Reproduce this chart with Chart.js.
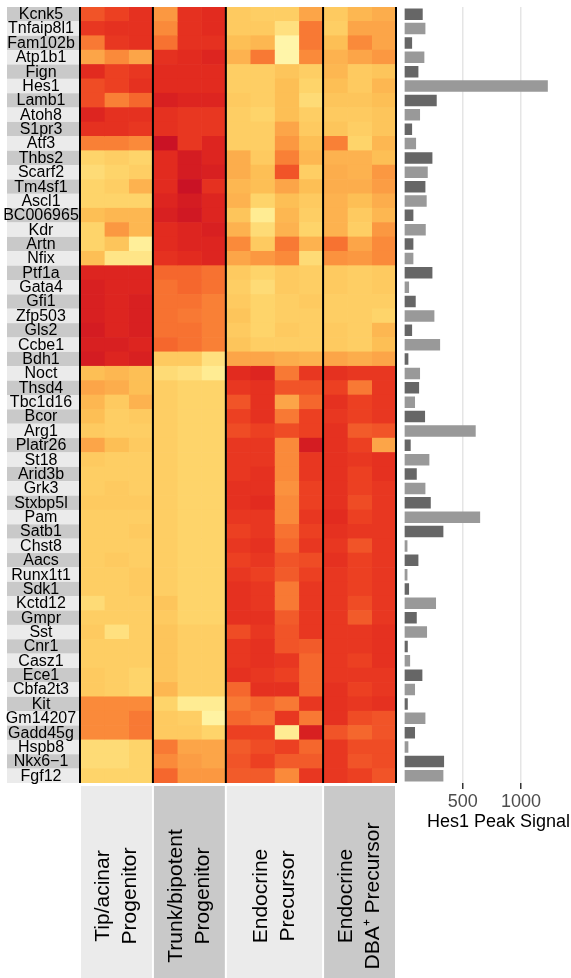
<!DOCTYPE html>
<html>
<head>
<meta charset="utf-8">
<script src="https://cdn.jsdelivr.net/npm/chart.js@4.4.1/dist/chart.umd.min.js"></script>
<style>
html,body{margin:0;padding:0;background:#fff;}
#wrap{position:relative;width:571px;height:978px;}
.box{position:absolute;top:0;height:978px;}
</style>
</head>
<body>
<div id="wrap">
  <div class="box" style="left:0;width:400px"><canvas id="heat"></canvas></div>
  <div class="box" style="left:400px;width:171px"><canvas id="bars"></canvas></div>
</div>
<script>
const genes = ['Kcnk5','Tnfaip8l1','Fam102b','Atp1b1','Fign','Hes1','Lamb1','Atoh8','S1pr3','Atf3',
  'Thbs2','Scarf2','Tm4sf1','Ascl1','BC006965','Kdr','Artn','Nfix','Ptf1a','Gata4','Gfi1','Zfp503',
  'Gls2','Ccbe1','Bdh1','Noct','Thsd4','Tbc1d16','Bcor','Arg1','Platr26','St18','Arid3b','Grk3',
  'Stxbp5l','Pam','Satb1','Chst8','Aacs','Runx1t1','Sdk1','Kctd12','Gmpr','Sst','Cnr1','Casz1',
  'Ece1','Cbfa2t3','Kit','Gm14207','Gadd45g','Hspb8','Nkx6\u22121','Fgf12'];

const groupNames = [['Tip/acinar','Progenitor'],['Trunk/bipotent','Progenitor'],['Endocrine','Precursor'],['Endocrine','DBA\u207A Precursor']];

// relative expression (0 = pale yellow, 100 = deep red), one row per gene
const tipAcinar = [[70,75,80],[78,80,80],[60,78,80],[45,55,45],[82,75,78],[72,75,80],[72,58,65],[85,80,80],[80,80,78],[58,58,55],
  [25,28,25],[22,25,28],[25,28,40],[25,25,25],[35,38,38],[25,50,38],[25,32,12],[35,18,18],[85,85,85],[88,85,85],
  [88,85,88],[88,85,88],[90,85,88],[88,88,85],[90,85,88],[35,38,35],[45,42,35],[38,30,40],[35,28,30],[30,28,28],
  [45,35,30],[30,28,28],[28,28,28],[28,30,28],[30,30,30],[28,28,28],[28,28,30],[28,28,28],[28,30,28],[28,28,30],
  [28,28,30],[22,28,28],[28,28,28],[30,20,28],[28,28,28],[28,28,28],[30,28,25],[30,28,25],[55,55,55],[55,55,60],
  [55,55,60],[22,22,25],[22,22,25],[25,25,25]];
const trunkBipotent = [[50,80,82],[55,80,82],[62,80,80],[80,82,85],[82,82,82],[82,82,82],[88,85,85],[80,78,78],[80,78,78],[95,78,85],
  [82,90,85],[82,90,88],[82,95,80],[85,90,85],[88,92,85],[82,85,88],[82,85,85],[80,82,85],[65,65,62],[62,65,62],
  [62,62,58],[62,60,58],[62,62,58],[65,62,58],[30,30,20],[22,20,15],[28,25,25],[28,25,25],[28,25,25],[28,25,25],
  [28,25,25],[28,25,25],[28,25,25],[28,25,25],[28,25,25],[28,25,25],[28,25,25],[28,25,25],[28,25,25],[28,25,25],
  [28,25,25],[32,25,25],[30,25,25],[32,28,28],[32,28,28],[32,28,28],[32,28,28],[38,28,28],[25,15,15],[30,28,8],
  [30,30,25],[60,45,45],[55,48,45],[65,50,50]];
const endoPrecursor = [[30,28,28,45],[30,30,20,60],[35,38,5,60],[40,60,5,55],[28,28,32,28],[28,28,35,25],[30,28,35,22],[28,25,35,28],[28,28,45,30],[28,28,50,35],
  [42,30,58,38],[42,35,70,28],[38,35,45,35],[40,25,35,30],[32,15,38,28],[40,22,40,25],[55,30,60,40],[45,50,55,22],[30,25,30,28],[28,22,30,28],
  [30,25,28,30],[32,25,28,28],[30,25,30,28],[32,28,28,28],[45,45,42,40],[82,85,60,78],[78,80,70,70],[70,80,45,65],[75,80,60,75],[72,75,72,75],
  [78,78,55,90],[78,78,55,78],[78,80,55,78],[80,80,52,75],[80,82,55,75],[78,78,55,78],[75,78,62,75],[78,80,65,78],[75,78,70,72],[78,75,68,75],
  [80,78,60,78],[80,78,60,78],[80,80,68,78],[72,78,70,78],[78,80,70,68],[78,80,78,65],[80,78,75,65],[65,80,80,65],[60,65,60,78],[65,62,78,60],
  [75,75,15,88],[68,72,75,65],[70,75,68,68],[68,68,55,78]];
const endoDBA = [[30,38,42],[28,45,45],[35,55,45],[40,45,50],[38,30,32],[35,30,38],[32,32,35],[30,30,32],[32,28,32],[58,25,38],
  [40,40,35],[42,40,50],[42,42,48],[40,35,42],[40,30,38],[40,28,50],[62,45,55],[52,50,55],[30,28,30],[30,28,30],
  [28,28,28],[28,28,25],[30,28,38],[30,28,35],[45,42,45],[80,78,78],[75,60,78],[80,75,78],[78,75,78],[80,68,70],
  [80,75,45],[80,78,80],[80,75,80],[80,75,78],[80,72,78],[82,75,78],[80,78,78],[78,70,78],[80,75,78],[78,75,78],
  [78,75,78],[78,72,78],[78,68,78],[78,78,80],[78,78,80],[78,75,80],[78,78,78],[80,75,78],[80,78,80],[80,72,70],
  [70,65,70],[78,72,72],[78,70,72],[78,75,70]];

const hes1Signal = [157,180,66,171,120,1229,277,134,66,100,240,200,180,191,77,183,77,77,240,40,97,257,66,306,34,
  134,126,91,177,611,54,214,106,180,226,649,334,26,120,26,40,271,106,194,29,49,154,91,29,180,91,34,340,334];

const hesTicks = [500, 1000];

Chart.defaults.font.family = '"Liberation Sans", Arial, Helvetica, sans-serif';

const stops = [[0,[255,250,180]],[15,[255,236,147]],[25,[254,212,106]],[35,[253,191,85]],[45,[252,165,72]],
  [55,[250,138,58]],[65,[245,103,45]],[75,[236,64,34]],[82,[226,43,31]],[90,[212,28,34]],[100,[192,8,40]]];
function heatColor(v){
  for(let k=1;k<stops.length;k++){
    if(v<=stops[k][0]){
      const [a,ca]=stops[k-1],[b,cb]=stops[k];
      const t=(v-a)/(b-a);
      return 'rgb('+ca.map((c,j)=>Math.round(c+(cb[j]-c)*t)).join(',')+')';
    }
  }
  return 'rgb(192,8,40)';
}

const rows = genes.map((g,i)=>[...tipAcinar[i],...trunkBipotent[i],...endoPrecursor[i],...endoDBA[i]]);
const nCols = rows[0].length;
const groupEdges = [0,3,6,10,13];

const datasets=[];
for(let c=0;c<nCols;c++){
  datasets.push({
    data: genes.map(()=>1),
    backgroundColor: rows.map(r=>heatColor(r[c])),
    borderWidth:0, barPercentage:1, categoryPercentage:1
  });
}

const heatDecor = {
  id:'heatDecor',
  beforeDraw(chart){
    const {ctx, chartArea:a, scales:{x,y}} = chart;
    const h = (a.bottom-a.top)/genes.length;
    ctx.save();
    genes.forEach((g,i)=>{
      const yc=y.getPixelForValue(i);
      ctx.fillStyle = i%2 ? '#ebebeb' : '#c9c9c9';
      ctx.fillRect(7, yc-h/2, a.left-8, h);
    });
    // group label bands
    for(let k=0;k<4;k++){
      const x0=x.getPixelForValue(groupEdges[k]), x1=x.getPixelForValue(groupEdges[k+1]);
      ctx.fillStyle = k%2 ? '#c9c9c9' : '#ebebeb';
      ctx.fillRect(x0+1, a.bottom+3, x1-x0-2, chart.height-a.bottom-3);
    }
    ctx.restore();
  },
  afterDraw(chart){
    const {ctx, chartArea:a, scales:{x,y}} = chart;
    ctx.save();
    ctx.fillStyle='#000';
    ctx.font='16px "Liberation Sans", Arial, sans-serif';
    ctx.textAlign='center'; ctx.textBaseline='middle';
    genes.forEach((g,i)=>{
      ctx.fillText(g, 41, y.getPixelForValue(i)+0.5);
    });
    ctx.strokeStyle='#000'; ctx.lineWidth=2;
    groupEdges.forEach(v=>{
      const px=x.getPixelForValue(v);
      ctx.beginPath(); ctx.moveTo(px,a.top); ctx.lineTo(px,a.bottom); ctx.stroke();
    });
    ctx.font='21px "Liberation Sans", Arial, sans-serif';
    const yMid = 896;
    groupNames.forEach((lines,k)=>{
      const xc=(x.getPixelForValue(groupEdges[k])+x.getPixelForValue(groupEdges[k+1]))/2;
      ctx.save();
      ctx.translate(xc, yMid);
      ctx.rotate(-Math.PI/2);
      lines.forEach((t,j)=>{
        ctx.fillText(t, 0, (j-(lines.length-1)/2)*27);
      });
      ctx.restore();
    });
    ctx.restore();
  }
};

new Chart(document.getElementById('heat'), {
  type:'bar',
  data:{labels:genes, datasets},
  options:{
    indexAxis:'y', responsive:true, maintainAspectRatio:false, animation:false,
    layout:{padding:{left:80,right:4,top:7,bottom:195}},
    plugins:{legend:{display:false}, tooltip:{enabled:false}},
    scales:{
      x:{stacked:true, min:0, max:nCols, display:false},
      y:{stacked:true, display:false}
    }
  },
  plugins:[heatDecor]
});

new Chart(document.getElementById('bars'), {
  type:'bar',
  data:{labels:genes, datasets:[{
    data:hes1Signal,
    backgroundColor: genes.map((g,i)=> i%2 ? '#999999' : '#666666'),
    barPercentage:0.8, categoryPercentage:1
  }]},
  options:{
    indexAxis:'y', responsive:true, maintainAspectRatio:false, animation:false,
    layout:{padding:{left:4.4, right:1, top:7, bottom:141}},
    plugins:{legend:{display:false}, tooltip:{enabled:false}},
    scales:{
      y:{display:false},
      x:{
        min:0, max:1419,
        afterBuildTicks:s=>{ s.ticks = hesTicks.map(v=>({value:v})); },
        ticks:{autoSkip:false, maxRotation:0, color:'#4d4d4d', font:{size:18}, padding:2,
          callback:v=>String(v)},
        grid:{color:'#e5e5e5', lineWidth:1.5, tickColor:'#333', tickLength:6},
        border:{display:false},
        title:{display:true, text:'Hes1 Peak Signal', align:'end', color:'#000', font:{size:18}, padding:{top:4,bottom:4}},
        afterFit:s=>{ s.height=54; }
      }
    }
  }
});
</script>
</body>
</html>
